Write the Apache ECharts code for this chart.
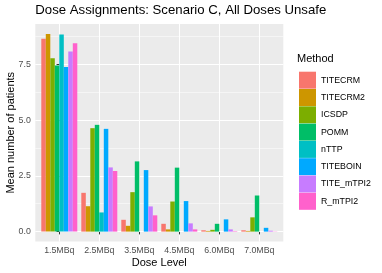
<!DOCTYPE html>
<html>
<head>
<meta charset="utf-8">
<script src="https://cdn.jsdelivr.net/npm/echarts@6/dist/echarts.min.js"></script>
<style>
html,body{margin:0;padding:0;background:#fff;}
#c{width:382px;height:273px;}
</style>
</head>
<body>
<div id="c"></div>
<script>
var categories = ["1.5MBq", "2.5MBq", "3.5MBq", "4.5MBq", "6.0MBq", "7.0MBq"];
var methods = ["TITECRM", "TITECRM2", "ICSDP", "POMM", "nTTP", "TITEBOIN", "TITE_mTPI2", "R_mTPI2"];
var colors = ["#F8766D", "#CD9600", "#7CAE00", "#00BE67", "#00BFC4", "#00A9FF", "#C77CFF", "#FF61CC"];
var TITECRM    = [8.65, 1.74, 0.53, 0.35, 0.06, 0.06];
var TITECRM2   = [8.87, 1.14, 0.26, 0.10, 0.03, 0.03];
var ICSDP      = [7.78, 4.64, 1.77, 1.35, 0.08, 0.64];
var POMM       = [7.45, 4.79, 3.15, 2.87, 0.35, 1.62];
var nTTP       = [8.84, 0.86, 0.00, 0.00, 0.00, 0.00];
var TITEBOIN   = [7.39, 4.61, 2.76, 1.37, 0.55, 0.17];
var TITE_mTPI2 = [8.08, 2.88, 1.13, 0.37, 0.10, 0.04];
var R_mTPI2    = [8.45, 2.72, 0.73, 0.10, 0.02, 0.01];
var yTicks = [0, 2.5, 5.0, 7.5];
var yMinor = [1.25, 3.75, 6.25, 8.75];

var values = [TITECRM, TITECRM2, ICSDP, POMM, nTTP, TITEBOIN, TITE_mTPI2, R_mTPI2];
var dataMax = 8.87;
var yMin = -0.05 * dataMax, yMax = 1.05 * dataMax;
var idx = categories.map(function (c, i) { return i; });
var FONT = "Liberation Sans, Arial, Helvetica, sans-serif";

var series = methods.map(function (m, k) {
  return {
    name: m,
    type: 'bar',
    xAxisIndex: 0,
    yAxisIndex: 0,
    barWidth: 4.5,
    barGap: '0%',
    itemStyle: { color: colors[k] },
    data: values[k].map(function (v, i) { return [i, v]; })
  };
});

var chart = echarts.init(document.getElementById('c'), null, { renderer: 'canvas' });
chart.setOption({
  animation: false,
  backgroundColor: '#ffffff',
  textStyle: { fontFamily: FONT },
  title: [
    { text: 'Dose Assignments: Scenario C, All Doses Unsafe', left: 35.3, top: 4, padding: 0,
      textStyle: { fontSize: 13.2, fontWeight: 'normal', color: '#000', fontFamily: FONT } },
    { text: 'Method', left: 297, top: 53.5, padding: 0,
      textStyle: { fontSize: 11, fontWeight: 'normal', color: '#000', fontFamily: FONT } }
  ],
  legend: {
    orient: 'vertical',
    left: 299, top: 71.7, padding: 0,
    itemWidth: 17, itemHeight: 17, itemGap: 0.3,
    icon: 'rect',
    data: methods,
    textStyle: { fontSize: 8.8, color: '#000', fontFamily: FONT },
    selectedMode: false
  },
  grid: {
    left: 35.3, top: 24, width: 248, height: 217.5,
    show: true, backgroundColor: '#EBEBEB', borderWidth: 0,
    containLabel: false, outerBoundsMode: 'none'
  },
  xAxis: [{
    type: 'value', min: -0.6, max: 5.6,
    name: 'Dose Level', nameLocation: 'middle', nameGap: 16, nameMoveOverlap: false,
    nameTextStyle: { fontSize: 11, color: '#000', fontFamily: FONT },
    axisLine: { show: false },
    axisTick: { show: true, length: 2.75, customValues: idx, lineStyle: { color: '#333333', width: 1 } },
    axisLabel: { customValues: idx, margin: 4.5, fontSize: 8.8, color: '#4D4D4D', fontFamily: FONT,
      formatter: function (v) { return categories[Math.round(v)]; } },
    splitLine: { show: true, lineStyle: { color: '#ffffff', width: 1.07 } }
  }],
  yAxis: [{
    type: 'value', min: yMin, max: yMax,
    name: 'Mean number of patients', nameLocation: 'middle', nameGap: 19, nameMoveOverlap: false,
    nameTextStyle: { fontSize: 11, color: '#000', fontFamily: FONT },
    axisLine: { show: false },
    axisTick: { show: true, length: 2.75, customValues: yTicks, lineStyle: { color: '#333333', width: 1 } },
    axisLabel: { customValues: yTicks, margin: 4.5, fontSize: 8.8, color: '#4D4D4D', fontFamily: FONT,
      formatter: function (v) { return v.toFixed(1); } },
    splitLine: { show: true, lineStyle: { color: '#ffffff', width: 1.07 } },
    z: 1
  }, {
    type: 'value', min: yMin, max: yMax, position: 'left',
    axisLine: { show: false },
    axisTick: { show: false, customValues: yMinor },
    axisLabel: { show: false, customValues: yMinor },
    splitLine: { show: true, lineStyle: { color: '#ffffff', width: 0.53 } },
    z: 0
  }],
  series: series
});
</script>
</body>
</html>
